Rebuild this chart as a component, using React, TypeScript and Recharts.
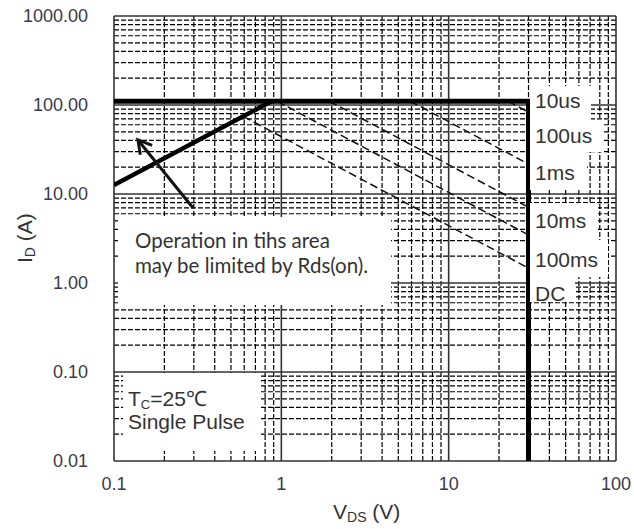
import React from 'react';
import { ComposedChart, Line, XAxis, YAxis, ReferenceLine } from 'recharts';

// ---- axis ticks ----
const X_TICKS = [0.1, 1, 10, 100];
const Y_TICKS = [0.01, 0.1, 1, 10, 100, 1000];
const X_MINOR = [0.2, 0.3, 0.4, 0.5, 0.6, 0.7, 0.8, 0.9, 2, 3, 4, 5, 6, 7, 8, 9, 20, 30, 40, 50, 60, 70, 80, 90];
const Y_MINOR = [
  0.02, 0.03, 0.04, 0.05, 0.06, 0.07, 0.08, 0.09,
  0.2, 0.3, 0.4, 0.5, 0.6, 0.7, 0.8, 0.9,
  2, 3, 4, 5, 6, 7, 8, 9,
  20, 30, 40, 50, 60, 70, 80, 90,
  200, 300, 400, 500, 600, 700, 800, 900,
];

// ---- series (V_DS in V, I_D in A) ----
const rdsLimit = [{ v: 0.1, i: 12.6 }, { v: 0.873, i: 110 }];
const soaBoundary = [{ v: 0.1, i: 110 }, { v: 30, i: 110 }, { v: 30, i: 0.01 }];
const pulse100us = [{ v: 22.7, i: 110 }, { v: 30, i: 83 }];
const pulse1ms = [{ v: 5.9, i: 110 }, { v: 30, i: 21.7 }];
const pulse10ms = [{ v: 1.94, i: 110 }, { v: 30, i: 7.1 }];
const pulse100ms = [{ v: 0.945, i: 110 }, { v: 30, i: 3.47 }];
const dcLine = [{ v: 0.591, i: 74.5 }, { v: 30, i: 1.47 }];
const arrowShaft = [{ v: 0.297, i: 6.97 }, { v: 0.139, i: 40.5 }];
const arrowHead = [{ v: 0.1437, i: 27.6 }, { v: 0.139, i: 40.5 }, { v: 0.1689, i: 35.2 }];

const curveLabels = ['10us', '100us', '1ms', '10ms', '100ms', 'DC'];

const TICK_FONT = { fontFamily: 'Liberation Sans, Arial, sans-serif', fontSize: 18, fill: '#3a3a48' };

export default function App() {
  const minorStyle = { stroke: '#000', strokeWidth: 1.2, strokeDasharray: '5 2' };
  const majorStyle = { stroke: '#333', strokeWidth: 1.6 };
  const dashStyle = { stroke: '#111', strokeWidth: 1.5, strokeDasharray: '8 4' };

  // white label boxes (page pixels)
  const rightBoxes = [
    [530, 86, 591, 120, 108],
    [530, 120, 603, 152, 143],
    [530, 152, 587, 190, 180],
    [530, 203, 598, 240, 228],
    [530, 240, 608, 277, 267],
    [530, 277, 575, 302, 301],
  ];

  return (
    <div style={{ position: 'absolute', left: 0, top: 0, width: 634, height: 529, background: '#fff' }}>
      <ComposedChart width={634} height={529} margin={{ top: 16, right: 18, bottom: 28, left: 14 }}>
        <XAxis
          dataKey="v"
          type="number"
          scale="log"
          domain={[0.1, 100]}
          allowDataOverflow
          ticks={X_TICKS}
          interval={0}
          tickFormatter={(v) => String(v)}
          axisLine={false}
          tickLine={false}
          tickSize={0}
          tickMargin={16}
          height={40}
          tick={TICK_FONT}
        />
        <YAxis
          type="number"
          scale="log"
          domain={[0.01, 1000]}
          allowDataOverflow
          ticks={Y_TICKS}
          interval={0}
          tickFormatter={(v) => Number(v).toFixed(2)}
          axisLine={false}
          tickLine={false}
          tickSize={0}
          tickMargin={26}
          width={100}
          tick={TICK_FONT}
        />
        {X_MINOR.map((x) => (
          <ReferenceLine key={'xm' + x} x={x} {...minorStyle} />
        ))}
        {Y_MINOR.map((y) => (
          <ReferenceLine key={'ym' + y} y={y} {...minorStyle} />
        ))}
        {X_TICKS.map((x) => (
          <ReferenceLine key={'xM' + x} x={x} {...majorStyle} />
        ))}
        {Y_TICKS.map((y) => (
          <ReferenceLine key={'yM' + y} y={y} {...majorStyle} />
        ))}
        <Line data={pulse100us} dataKey="i" type="linear" {...dashStyle} dot={false} activeDot={false} isAnimationActive={false} />
        <Line data={pulse1ms} dataKey="i" type="linear" {...dashStyle} dot={false} activeDot={false} isAnimationActive={false} />
        <Line data={pulse10ms} dataKey="i" type="linear" {...dashStyle} dot={false} activeDot={false} isAnimationActive={false} />
        <Line data={pulse100ms} dataKey="i" type="linear" {...dashStyle} dot={false} activeDot={false} isAnimationActive={false} />
        <Line data={dcLine} dataKey="i" type="linear" {...dashStyle} dot={false} activeDot={false} isAnimationActive={false} />
        <Line data={rdsLimit} dataKey="i" type="linear" stroke="#000" strokeWidth={4.5} dot={false} activeDot={false} isAnimationActive={false} />
        <Line data={soaBoundary} dataKey="i" type="linear" stroke="#000" strokeWidth={5} strokeLinejoin="miter" dot={false} activeDot={false} isAnimationActive={false} />
        <Line data={arrowShaft} dataKey="i" type="linear" stroke="#111" strokeWidth={3} dot={false} activeDot={false} isAnimationActive={false} />
        <Line data={arrowHead} dataKey="i" type="linear" stroke="#111" strokeWidth={3} dot={false} activeDot={false} isAnimationActive={false} />
      </ComposedChart>
      <svg width={634} height={529} style={{ position: 'absolute', left: 0, top: 0, pointerEvents: 'none' }}>
        <rect x={118} y={217} width={273} height={88} fill="#fff" />
        <text x={135} y={248} fontFamily="Lato, sans-serif" fontSize={20.5} fill="#333">Operation in tihs area</text>
        <text x={135} y={273} fontFamily="Lato, sans-serif" fontSize={20.5} fill="#333">may be limited by Rds(on).</text>

        <rect x={123} y={373} width={136} height={78} fill="#fff" />
        <text x={128} y={406} fontFamily="Liberation Sans, Arial, sans-serif" fontSize={21} fill="#333">
          T<tspan fontSize={13} dy={3}>C</tspan><tspan dy={-3}>=25℃</tspan>
        </text>
        <text x={128} y={429} fontFamily="Liberation Sans, Arial, sans-serif" fontSize={21} fill="#333">Single Pulse</text>

        {rightBoxes.map((b, k) => (
          <g key={k}>
            <rect x={b[0]} y={b[1]} width={b[2] - b[0]} height={b[3] - b[1]} fill="#fff" />
            <text x={535} y={b[4]} fontFamily="Liberation Sans, Arial, sans-serif" fontSize={21} fill="#333">{curveLabels[k]}</text>
          </g>
        ))}

        <text transform="translate(32,263) rotate(-90)" fontFamily="Liberation Sans, Arial, sans-serif" fontSize={21} fill="#333">
          I<tspan fontSize={14} dy={3}>D</tspan><tspan dy={-3}> (A)</tspan>
        </text>
        <text x={333} y={519} fontFamily="Liberation Sans, Arial, sans-serif" fontSize={21} fill="#333">
          V<tspan fontSize={14} dy={3}>DS</tspan><tspan dy={-3}> (V)</tspan>
        </text>
      </svg>
    </div>
  );
}
